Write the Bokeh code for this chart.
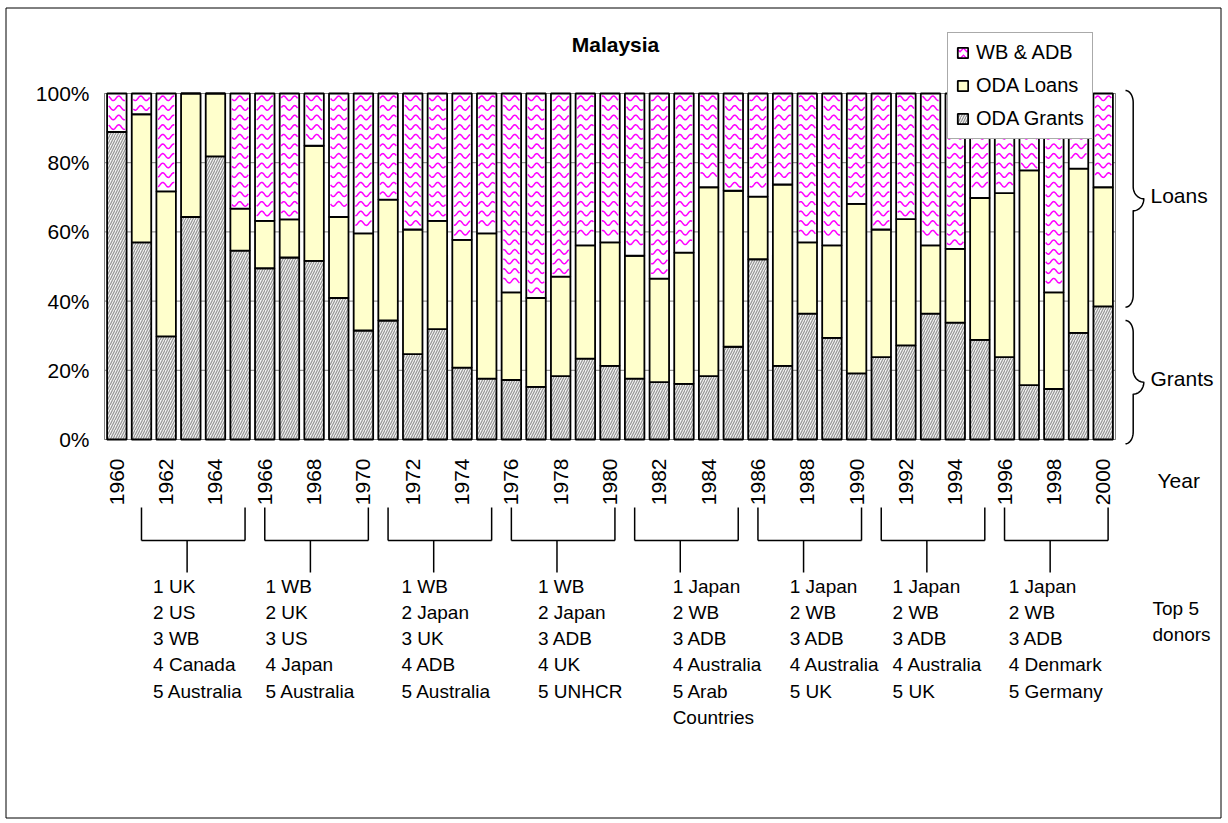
import math
from bokeh.plotting import figure
from bokeh.models import ColumnDataSource, Range1d, Legend, LegendItem
from bokeh.core.properties import value
from bokeh.embed import file_html
from bokeh.resources import INLINE

# ---------------- data (shares in %) ----------------
years = list(range(1960, 2001))
oda_grants = [88.9, 57.0, 29.8, 64.3, 81.8, 54.6, 49.5, 52.6, 51.6, 40.9,
              31.5, 34.4, 24.7, 31.9, 20.8, 17.6, 17.2, 15.2, 18.3, 23.4,
              21.3, 17.6, 16.6, 16.1, 18.3, 26.8, 52.1, 21.3, 36.4, 29.4,
              19.1, 23.8, 27.2, 36.4, 33.8, 28.8, 23.8, 15.7, 14.6, 30.8, 38.5]
oda_loans = [0.0, 37.0, 41.9, 35.7, 18.2, 12.1, 13.7, 11.0, 33.3, 23.4,
             28.1, 34.9, 36.0, 31.3, 36.9, 42.0, 25.3, 25.7, 28.8, 32.7,
             35.7, 35.5, 29.9, 37.9, 54.6, 45.1, 18.1, 52.4, 20.6, 26.7,
             49.0, 36.9, 36.5, 19.7, 21.3, 41.0, 47.4, 62.1, 27.9, 47.5, 34.4]
wb_adb = [11.1, 6.0, 28.3, 0.0, 0.0, 33.3, 36.8, 36.4, 15.1, 35.7,
          40.4, 30.7, 39.3, 36.8, 42.3, 40.4, 57.5, 59.1, 52.9, 43.9,
          43.0, 46.9, 53.5, 46.0, 27.1, 28.1, 29.8, 26.3, 43.0, 43.9,
          31.9, 39.3, 36.3, 43.9, 44.9, 30.2, 28.8, 22.2, 57.5, 21.7, 27.1]

series_names = ["ODA Grants", "ODA Loans", "WB & ADB"]
y_ticks = [0, 20, 40, 60, 80, 100]
y_tick_labels = ["0%", "20%", "40%", "60%", "80%", "100%"]
tick_years = years[::2]

group_first = [1961, 1966, 1971, 1976, 1981, 1986, 1991, 1996]
group_last = [1965, 1970, 1975, 1980, 1985, 1990, 1995, 2000]
top_donors = [
    ["1 UK", "2 US", "3 WB", "4 Canada", "5 Australia"],
    ["1 WB", "2 UK", "3 US", "4 Japan", "5 Australia"],
    ["1 WB", "2 Japan", "3 UK", "4 ADB", "5 Australia"],
    ["1 WB", "2 Japan", "3 ADB", "4 UK", "5 UNHCR"],
    ["1 Japan", "2 WB", "3 ADB", "4 Australia", "5 Arab", "Countries"],
    ["1 Japan", "2 WB", "3 ADB", "4 Australia", "5 UK"],
    ["1 Japan", "2 WB", "3 ADB", "4 Australia", "5 UK"],
    ["1 Japan", "2 WB", "3 ADB", "4 Denmark", "5 Germany"],
]

# ---------------- layout / style ----------------
FONT = "Liberation Sans"
W, H = 1224, 822
FL, FR, FT, FB = 104, 1115, 93, 439          # bar area edges, page pixels
text_shift = [0.47, 0.03, 0.54, 1.08, 1.54, 1.29, 0.46, 0.17]
BAR_W = 0.79
MAGENTA = "#ff00ff"

xpp = (FR - FL) / len(years)
ypp = (FB - FT) / 100.0
x_lo, x_hi = years[0] - 0.5, years[-1] + 0.5

p = figure(width=W, height=H, output_backend="svg", toolbar_location=None, title=None,
           x_range=Range1d(x_lo - FL / xpp, x_hi + (W - FR) / xpp),
           y_range=Range1d(-(H - FB) / ypp, 100 + FT / ypp),
           x_axis_location=None, y_axis_location=None, min_border=0)
p.extra_x_ranges = {"px": Range1d(0, W)}
p.extra_y_ranges = {"px": Range1d(H, 0)}
p.background_fill_color = "white"
p.border_fill_color = "white"
p.outline_line_color = None
p.xgrid.visible = False
p.ygrid.visible = False

TXT = dict(text_font=value(FONT), text_color="black")

# outer chart border
p.quad(left=[5.5], right=[1220.5], top=[7.5], bottom=[817.5],
       x_range_name="px", y_range_name="px",
       fill_color=None, line_color="black", line_width=1)

# grid lines + plot-area outline
p.segment(x0=x_lo, x1=x_hi, y0=y_ticks, y1=y_ticks, line_color="#808080", line_width=1)
p.quad(left=[x_lo], right=[x_hi], bottom=[y_ticks[0]], top=[y_ticks[-1]],
       fill_color=None, line_color="#808080", line_width=1)

# y tick labels
p.text(x=x_lo, y=y_ticks, text=y_tick_labels, x_offset=-15,
       text_align="right", text_baseline="middle", text_font_size="21px", **TXT)

# bars
src = ColumnDataSource(dict(year=years, grants=oda_grants, loans=oda_loans, wb=wb_adb))
rs = p.vbar_stack(["grants", "loans", "wb"], x="year", width=BAR_W, source=src,
                  fill_color=["#f2f2f2", "#ffffcc", "#ffffff"],
                  line_color="black", line_width=1.8,
                  hatch_pattern=[value("right_diagonal_line"), value("blank"), value("blank")],
                  hatch_color=["#959595", "#ffffcc", "#ffffff"],
                  hatch_scale=[5, 10, 10], hatch_weight=[1.2, 1, 1])

# smooth wavy fill for the WB & ADB segments (computed from the segment bounds)
amp, period, gap = 2.3, 11.0, 9.6
inset = 1.6 / xpp
wxs, wys = [], []
for yr, g, l, w in zip(years, oda_grants, oda_loans, wb_adb):
    if w <= 0:
        continue
    seg_top_px = FB - (g + l + w) * ypp
    seg_bot_px = FB - (g + l) * ypp
    row = FT + gap / 2
    while row < FB:
        if seg_top_px + amp + 1.8 <= row <= seg_bot_px - amp - 1.8:
            xs = [yr - BAR_W / 2 + inset + (BAR_W - 2 * inset) * k / 24 for k in range(25)]
            ys = [row + amp * math.sin(2 * math.pi * (FL + (x - x_lo) * xpp) / period) for x in xs]
            wxs.append(xs); wys.append(ys)
        row += gap
p.multi_line(xs=wxs, ys=wys, y_range_name="px", line_color=MAGENTA, line_width=1.5)

# legend swatch for WB & ADB: hidden copy of the top segments carrying a wave hatch
swatch = p.vbar(x="year", bottom=0, top="wb", width=BAR_W, source=src,
                fill_color="white", line_color="black", line_width=1.8,
                hatch_pattern="horizontal_wave", hatch_color=MAGENTA,
                hatch_scale=7, hatch_weight=1.3, visible=False)
legend = Legend(items=[LegendItem(label=series_names[2], renderers=[swatch]),
                       LegendItem(label=series_names[1], renderers=[rs[1]]),
                       LegendItem(label=series_names[0], renderers=[rs[0]])],
                location=(947, H - 139), orientation="vertical",
                padding=8, spacing=10, margin=0, glyph_width=13, glyph_height=13,
                label_standoff=7, label_height=20,
                label_text_font=FONT, label_text_font_size="20px",
                label_text_color="black",
                border_line_color="#555555", border_line_width=1,
                background_fill_color="white", background_fill_alpha=1.0)
p.add_layout(legend)

# title
p.text(x=[615], y=[44], text=["Malaysia"], x_range_name="px", y_range_name="px",
       text_align="center", text_baseline="middle", text_font_size="21px",
       text_font_style="bold", **TXT)

# year labels (rotated)
p.text(x=tick_years, y=458, text=[str(v) for v in tick_years], y_range_name="px",
       angle=math.pi / 2, text_align="right", text_baseline="middle",
       text_font_size="21px", **TXT)

# brackets under the year groups
x0, y0, x1, y1 = [], [], [], []
for s, e in zip(group_first, group_last):
    xs, xe = s, e + 0.2
    xm = (xs + xe) / 2 - 0.25
    for a, b, c, d in [(xs, 507, xs, 540), (xe, 507, xe, 540),
                       (xs, 540, xe, 540), (xm, 540, xm, 572)]:
        x0.append(a); y0.append(b); x1.append(c); y1.append(d)
p.segment(x0=x0, y0=y0, x1=x1, y1=y1, y_range_name="px",
          line_color="black", line_width=1.5)

# donor lists
dx, dy, dt = [], [], []
for gi, lines in enumerate(top_donors):
    for k, t in enumerate(lines):
        dx.append(group_first[gi] + text_shift[gi])
        dy.append(585.5 + 26.25 * k)
        dt.append(t)
p.text(x=dx, y=dy, text=dt, y_range_name="px", text_align="left",
       text_baseline="middle", text_font_size="19px", **TXT)

# side texts
p.text(x=[1157, 1150, 1150], y=[480, 195, 378], text=["Year", "Loans", "Grants"],
       x_range_name="px", y_range_name="px", text_align="left", text_baseline="middle",
       text_font_size="21px", **TXT)
p.text(x=[1152, 1152], y=[608, 634], text=["Top 5", "donors"],
       x_range_name="px", y_range_name="px", text_align="left", text_baseline="middle",
       text_font_size="19px", **TXT)


def brace(ytop, ybot, ymid, xend=1125.0, xsp=1132.7, xcu=1143.3, r=12.0, n=12):
    q = [(math.pi / 2) * i / n for i in range(n + 1)]
    pts = [(xend + (xsp - xend) * math.sin(t), ytop + r - r * math.cos(t)) for t in q]
    pts += [(xcu - (xcu - xsp) * math.cos(t), ymid - r + r * math.sin(t)) for t in q]
    pts += [(xsp + (xcu - xsp) * math.cos(t), ymid + r * math.sin(t)) for t in q]
    pts += [(xsp - (xsp - xend) * (1 - math.cos(t)), ybot - r + r * math.sin(t)) for t in q]
    return [a for a, _ in pts], [b for _, b in pts]


bxs, bys = [], []
for (yt, yb, ym) in [(90, 306.7, 198.3), (320, 443.3, 381.7)]:
    bx, by = brace(yt, yb, ym)
    bxs.append(bx); bys.append(by)
p.multi_line(xs=bxs, ys=bys, x_range_name="px", y_range_name="px",
             line_color="black", line_width=1.5, line_join="round")

open("out.html", "w").write(file_html(p, INLINE))
